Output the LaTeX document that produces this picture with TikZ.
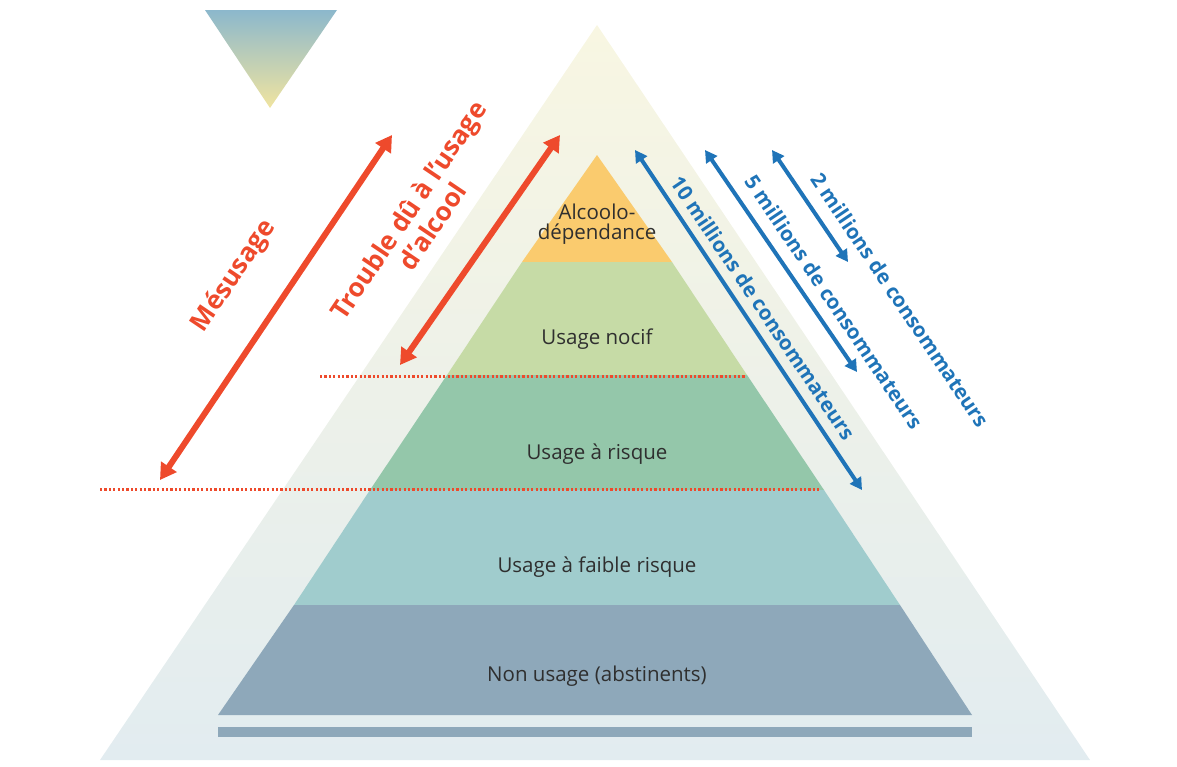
\documentclass[tikz,border=0pt]{standalone}
\usepackage{fontspec}
\setmainfont{Open Sans}
\usetikzlibrary{arrows.meta}
\definecolor{redarr}{HTML}{EE4A2C}
\definecolor{bluearr}{HTML}{1F74B8}
\definecolor{txt}{HTML}{2F2F2F}
\tikzset{
  band/.style = {draw=none},
  lbl/.style = {text=txt, font=\fontsize{20.5}{23}\selectfont},
  redtip/.style = {redarr, line width=6pt, {Triangle[width=18pt,length=16pt]}-{Triangle[width=18pt,length=16pt]}},
  bluetip/.style = {bluearr, line width=4pt, {Triangle[width=13pt,length=12pt]}-{Triangle[width=13pt,length=12pt]}},
  redlbl/.style = {text=redarr, font=\fontsize{26}{29}\selectfont\bfseries, rotate=56, align=center},
  bluelbl/.style = {text=bluearr, font=\fontsize{20.5}{22}\selectfont\bfseries, rotate=-56},
  limit/.style = {redarr, line width=3pt, dash pattern=on 2.2pt off 2.2pt}
}
\begin{document}
\begin{tikzpicture}[x=1pt, y=-1pt]
  \useasboundingbox (0,0) rectangle (1177,766);
  % outer pale triangle
  \shade[top color={rgb,255:red,248;green,246;blue,226}, bottom color={rgb,255:red,226;green,236;blue,240}] (597,25) -- (1090,760) -- (100,760) -- cycle;
  % small inverted triangle
  \shade[top color={rgb,255:red,140;green,184;blue,204}, middle color={rgb,255:red,170;green,208;blue,160}, bottom color={rgb,255:red,240;green,228;blue,160}] (205,10) -- (337,10) -- (270,108) -- cycle;
  % pyramid bands
  \fill[band, fill={rgb,255:red,250;green,203;blue,110}] (597,155) -- (672,262) -- (522,262) -- cycle;
  \fill[band, fill={rgb,255:red,198;green,219;blue,166}] (522,262) -- (672,262) -- (747,375) -- (447,375) -- cycle;
  \fill[band, fill={rgb,255:red,148;green,199;blue,170}] (447,375) -- (747,375) -- (824,490) -- (370,490) -- cycle;
  \fill[band, fill={rgb,255:red,160;green,204;blue,205}] (370,490) -- (824,490) -- (900,605) -- (294,605) -- cycle;
  \fill[band, fill={rgb,255:red,142;green,168;blue,186}] (294,605) -- (900,605) -- (972,715) -- (218,715) -- cycle;
  \fill[band, fill={rgb,255:red,142;green,168;blue,186}] (218,727) rectangle (972,737);
  % band labels
  \node[lbl, align=center] (dep) at (597,224) {Alcoolo-\\[-3pt]dépendance};
  \node[lbl] (nocif) at (597,339) {Usage nocif};
  \node[lbl] (risque) at (597,454) {Usage à risque};
  \node[lbl] (faible) at (597,567) {Usage à faible risque};
  \node[lbl] (non) at (597,676) {Non usage (abstinents)};
  % dotted limits
  \draw[limit] (320,376) -- (745,376);
  \draw[limit] (100,489) -- (820,489);
  % red arrows
  \coordinate (mes-a) at (160,480);
  \coordinate (mes-b) at (392,135);
  \coordinate (tr-a) at (400,365);
  \coordinate (tr-b) at (560,135);
  \draw[redtip] (mes-a) -- (mes-b);
  \draw[redtip] (tr-a) -- (tr-b);
  \node[redlbl] (mes) at (234,276) {Mésusage};
  \node[redlbl] (trouble) at (420,218) {Trouble dû à l'usage\\d'alcool};
  % blue arrows
  \coordinate (dix-a) at (635,150);
  \coordinate (dix-b) at (862,490);
  \coordinate (cinq-a) at (705,150);
  \coordinate (cinq-b) at (857,372);
  \coordinate (deux-a) at (772,150);
  \coordinate (deux-b) at (848,262);
  \draw[bluetip] (dix-a) -- (dix-b);
  \draw[bluetip] (cinq-a) -- (cinq-b);
  \draw[bluetip] (deux-a) -- (deux-b);
  \node[bluelbl] (dix) at (763,308) {10 millions de consommateurs};
  \node[bluelbl] (cinq) at (834,302) {5 millions de consommateurs};
  \node[bluelbl] (deux) at (900,300) {2 millions de consommateurs};
\end{tikzpicture}
\end{document}
